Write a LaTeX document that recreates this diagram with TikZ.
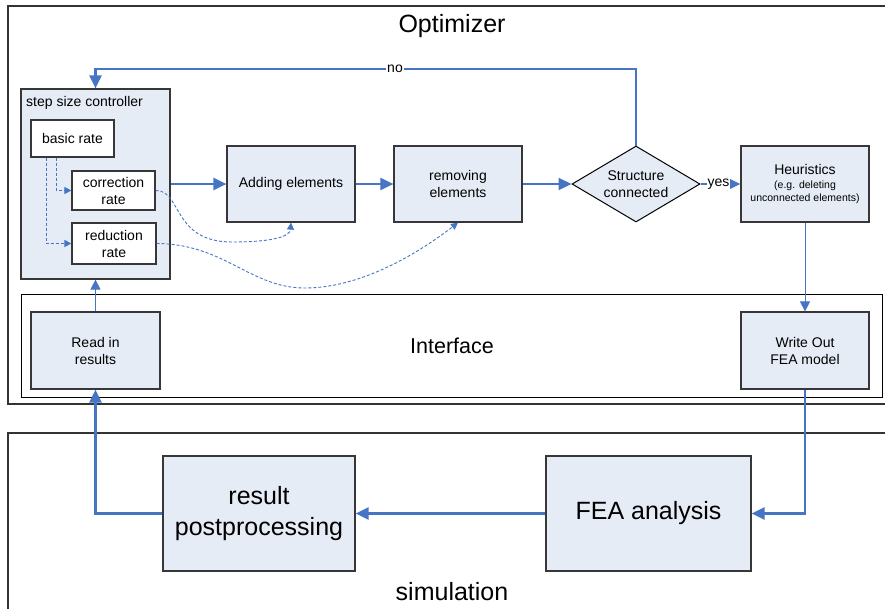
\documentclass[tikz,border=0pt]{standalone}
\usepackage{fontspec}
\setmainfont{Liberation Sans}
\usetikzlibrary{arrows.meta,shapes.geometric}
\definecolor{flowblue}{RGB}{70,117,196}
\definecolor{boxfill}{RGB}{230,236,246}
\definecolor{boxline}{RGB}{55,55,55}
\tikzset{
 box/.style={draw=boxline, line width=1.2pt, fill=boxfill, align=center, inner sep=2pt, font=\fontsize{14}{17}\selectfont},
 whitebox/.style={box, fill=white},
 bigbox/.style={box, font=\fontsize{25}{31}\selectfont},
 flow/.style={draw=flowblue, line width=2.2pt, -{Triangle[length=13pt,width=12pt]}},
 thinflow/.style={draw=flowblue, line width=1pt, -{Triangle[length=10pt,width=10pt]}},
 dflow/.style={draw=flowblue, line width=0.9pt, dash pattern=on 3pt off 2pt, -{Triangle[length=7pt,width=7pt]}},
 frame/.style={draw=black!80, line width=1.3pt},
 lbl/.style={fill=white, inner sep=1pt, font=\fontsize{14}{17}\selectfont},
 title/.style={font=\fontsize{25}{30}\selectfont, inner sep=0pt},
}
\begin{document}
\begin{tikzpicture}[x=1pt,y=-1pt]
\useasboundingbox (0,0) rectangle (885,608);
\clip (0,0) rectangle (885,608);
\fill[white] (0,0) rectangle (885,608);
% frames
\draw[frame] (8,6) rectangle (900,404);
\draw[black, line width=1pt] (21,294) rectangle (882,397);
\draw[frame] (8,433) rectangle (900,625);
\node[title] (topt) at (452,26) {Optimizer};
\node[title, font=\fontsize{21.5}{26}\selectfont] (tint) at (452,346) {Interface};
\node[title] (tsim) at (452,592) {simulation};
% controller
\node[box, minimum width=149pt, minimum height=190pt] (ctrl) at (95.5,184) {};
\node[anchor=base west, inner sep=0pt, font=\fontsize{14}{17}\selectfont] (ctrllbl) at (26,106) {step size controller};
\node[whitebox, minimum width=83pt, minimum height=37pt] (basic) at (72.5,138.5) {basic rate};
\node[whitebox, minimum width=83pt, minimum height=39pt] (corr) at (113.5,190.5) {correction\\rate};
\node[whitebox, minimum width=84pt, minimum height=41pt] (red) at (114,243.5) {reduction\\rate};
% main chain
\node[box, minimum width=128pt, minimum height=76pt] (add) at (291,184) {Adding elements};
\node[box, minimum width=128pt, minimum height=76pt] (rem) at (458,184) {removing\\elements};
\node[diamond, draw=black, line width=1pt, fill=boxfill, minimum width=128pt, minimum height=76pt, inner sep=0pt] (dia) at (636,184) {};
\node[align=center, font=\fontsize{14}{17}\selectfont] (diatext) at (dia.center) {Structure\\connected};
\node[box, minimum width=128pt, minimum height=76pt, font=\fontsize{10.5}{13}\selectfont] (heur) at (805,184)
  {\fontsize{14}{17}\selectfont Heuristics\\[1pt]\fontsize{10.5}{13}\selectfont (e.g. deleting\\\fontsize{10.5}{13}\selectfont unconnected elements)};
% interface
\node[box, minimum width=129pt, minimum height=77pt] (read) at (95.5,350.5) {Read in\\results};
\node[box, minimum width=128pt, minimum height=77pt] (wo) at (805,350.5) {Write Out\\FEA model};
% simulation
\node[bigbox, minimum width=192pt, minimum height=115pt] (res) at (259,513.5) {result\\postprocessing};
\node[bigbox, minimum width=205pt, minimum height=115pt] (fea) at (648.5,513.5) {FEA analysis};
% connectors
\draw[flow] (ctrl.east) -- (add.west);
\draw[flow] (add.east) -- (rem.west);
\draw[flow] (rem.east) -- (dia.west);
\draw[flow] (dia.east) -- node[lbl, pos=0.45] {yes} (heur.west);
\draw[flow] (dia.north) |- (395,69) node[lbl] {no} -| (ctrl.north);
\draw[thinflow] (heur.south) -- (wo.north);
\draw[flow] (wo.south) |- (fea.east);
\draw[flow] (fea.west) -- (res.east);
\draw[flow] (res.west) -| (read.south);
\draw[thinflow] (read.north) -- (ctrl.south);
% dashed
\draw[dflow] ([xshift=26pt]basic.south west) |- (corr.west);
\draw[dflow] ([xshift=16pt]basic.south west) |- (red.west);
\draw[dflow] (corr.east) .. controls (182,190) and (172,242) .. (232,242) .. controls (275,242) and (290,236) .. (add.south);
\draw[dflow] (red.east) .. controls (225,244) and (250,288) .. (305,288) .. controls (362,288) and (420,252) .. (rem.south);
\end{tikzpicture}
\end{document}
